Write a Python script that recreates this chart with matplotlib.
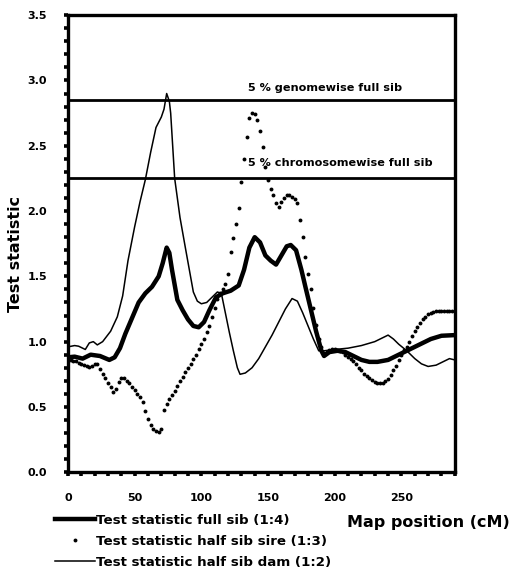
import matplotlib
matplotlib.use("Agg")
import matplotlib.pyplot as plt
from matplotlib.lines import Line2D
import numpy as np

# ---- data ----
full_x = [0, 5, 11, 17, 24, 31, 35, 39, 43, 48, 53, 58, 63, 68, 71, 74, 76, 78, 82, 86,
          90, 94, 98, 102, 106, 111, 116, 122, 128, 132, 136, 140, 144, 148, 152, 156,
          160, 164, 167, 171, 175, 178, 182, 186, 190, 192, 196, 202, 208, 214, 220,
          226, 232, 240, 248, 256, 264, 272, 280, 290]
full_y = [0.88, 0.885, 0.87, 0.90, 0.89, 0.86, 0.88, 0.95, 1.06, 1.18, 1.30, 1.37, 1.42,
          1.50, 1.60, 1.72, 1.68, 1.55, 1.32, 1.24, 1.17, 1.12, 1.11, 1.15, 1.24, 1.34,
          1.37, 1.39, 1.43, 1.55, 1.72, 1.80, 1.76, 1.66, 1.62, 1.59, 1.66, 1.73, 1.74,
          1.70, 1.55, 1.42, 1.25, 1.08, 0.93, 0.89, 0.92, 0.93, 0.92, 0.89, 0.86, 0.845,
          0.845, 0.86, 0.90, 0.94, 0.98, 1.02, 1.045, 1.05]

sire_x = list(range(0, 291, 2))
sire_y = [0.85, 0.86, 0.855, 0.85, 0.84, 0.83, 0.82, 0.81, 0.805, 0.815,
          0.83, 0.825, 0.79, 0.755, 0.72, 0.685, 0.65, 0.615, 0.64, 0.69,
          0.725, 0.725, 0.70, 0.68, 0.655, 0.63, 0.60, 0.575, 0.54, 0.47,
          0.41, 0.36, 0.33, 0.315, 0.31, 0.33, 0.475, 0.52, 0.56, 0.59,
          0.625, 0.66, 0.695, 0.73, 0.765, 0.80, 0.83, 0.87, 0.90, 0.94,
          0.98, 1.02, 1.07, 1.12, 1.19, 1.26, 1.33, 1.37, 1.40, 1.44,
          1.52, 1.69, 1.79, 1.90, 2.02, 2.22, 2.40, 2.57, 2.71, 2.75,
          2.74, 2.70, 2.61, 2.49, 2.34, 2.24, 2.17, 2.12, 2.06, 2.03,
          2.07, 2.10, 2.12, 2.12, 2.11, 2.09, 2.06, 1.93, 1.80, 1.65,
          1.52, 1.40, 1.26, 1.13, 1.02, 0.96, 0.91, 0.92, 0.935, 0.94,
          0.94, 0.935, 0.93, 0.92, 0.90, 0.885, 0.87, 0.85, 0.825, 0.80,
          0.78, 0.755, 0.735, 0.72, 0.705, 0.69, 0.685, 0.68, 0.685, 0.70,
          0.715, 0.745, 0.78, 0.81, 0.86, 0.90, 0.935, 0.96, 1.00, 1.04,
          1.08, 1.11, 1.14, 1.17, 1.19, 1.21, 1.22, 1.23, 1.235, 1.235,
          1.235, 1.235, 1.235, 1.235, 1.235, 1.235]

dam_x = [0, 5, 8, 13, 16, 19, 22, 26, 32, 37, 41, 45, 50, 54, 58, 62, 66, 70, 72, 74,
         76, 77, 80, 84, 88, 91, 94, 97, 100, 104, 108, 112, 115, 118, 121, 124, 127,
         129, 133, 138, 143, 148, 153, 158, 163, 168, 172, 176, 180, 184, 188, 192,
         200, 210, 220, 230, 236, 240, 244, 248, 254, 260, 265, 270, 276, 282, 286, 290]
dam_y = [0.96, 0.97, 0.965, 0.94, 0.99, 1.00, 0.975, 1.00, 1.08, 1.19, 1.35, 1.62,
         1.88, 2.07, 2.24, 2.45, 2.64, 2.72, 2.78, 2.90, 2.84, 2.75, 2.25, 1.95, 1.72,
         1.55, 1.38, 1.31, 1.29, 1.30, 1.34, 1.38, 1.37, 1.22, 1.07, 0.93, 0.80, 0.75,
         0.76, 0.80, 0.87, 0.96, 1.05, 1.15, 1.25, 1.33, 1.31, 1.22, 1.12, 1.02, 0.93,
         0.93, 0.94, 0.95, 0.97, 1.00, 1.03, 1.05, 1.02, 0.98, 0.93, 0.87, 0.83, 0.81,
         0.82, 0.85, 0.87, 0.86]

thresholds = [2.85, 2.25]
threshold_labels = ["5 % genomewise full sib", "5 % chromosomewise full sib"]

legend_labels = ["Test statistic full sib (1:4)",
                 "Test statistic half sib sire (1:3)",
                 "Test statistic half sib dam (1:2)"]
x_ticks = [0, 50, 100, 150, 200, 250]
y_ticks = [0.0, 0.5, 1.0, 1.5, 2.0, 2.5, 3.0, 3.5]

# ---- figure ----
plt.rcParams['font.family'] = ['DejaVu Sans']
fig = plt.figure(figsize=(5.11, 5.83), dpi=100)
ax = fig.add_axes([0.133, 0.190, 0.757, 0.784])

ax.plot(full_x, full_y, color='black', lw=3.2, solid_joinstyle='round', zorder=3)
ax.plot(sire_x, sire_y, linestyle='none', marker='o', ms=2.8, color='black',
        markeredgewidth=0, zorder=3)
ax.plot(dam_x, dam_y, color='black', lw=1.1, zorder=3)

for t in thresholds:
    ax.axhline(t, color='black', lw=2.0, zorder=2)

ax.text(135, 2.94, threshold_labels[0], fontsize=8.1, fontweight='bold', va='center')
ax.text(135, 2.37, threshold_labels[1], fontsize=8.1, fontweight='bold', va='center')

ax.set_xlim(0, 290)
ax.set_ylim(0, 3.5)
ax.set_xticks(x_ticks)
ax.set_xticks(np.arange(0, 291, 10), minor=True)
ax.set_yticks(y_ticks)
ax.set_yticks(np.arange(0, 3.51, 0.1), minor=True)
ax.set_yticklabels([f"{v:.1f}" for v in y_ticks])
ax.tick_params(axis='both', which='both', direction='out', length=3, width=2.6,
               labelsize=8)
ax.tick_params(axis='x', which='major', pad=12)
ax.tick_params(axis='y', which='major', pad=12)
for lab in ax.get_xticklabels() + ax.get_yticklabels():
    lab.set_fontweight('bold')
for s in ax.spines.values():
    s.set_linewidth(2.4)

fig.text(0.03, 0.565, "Test statistic", rotation=90, fontsize=11.5,
         fontweight='bold', ha='center', va='center')
fig.text(0.998, 0.104, "Map position (cM)", fontsize=11.5, fontweight='bold',
         ha='right', va='center')

handles = [Line2D([], [], color='black', lw=3.2),
           Line2D([], [], color='black', linestyle='none', marker='o', ms=2.8,
                  markeredgewidth=0),
           Line2D([], [], color='black', lw=1.1)]
leg = fig.legend(handles, legend_labels, loc='upper left',
                 bbox_to_anchor=(0.108, 0.119), frameon=False,
                 prop={'weight': 'bold', 'size': 9.6}, handlelength=2.95,
                 handletextpad=0.12, labelspacing=0.62, borderaxespad=0,
                 borderpad=0, numpoints=1)

fig.savefig("out.png", dpi=100)
